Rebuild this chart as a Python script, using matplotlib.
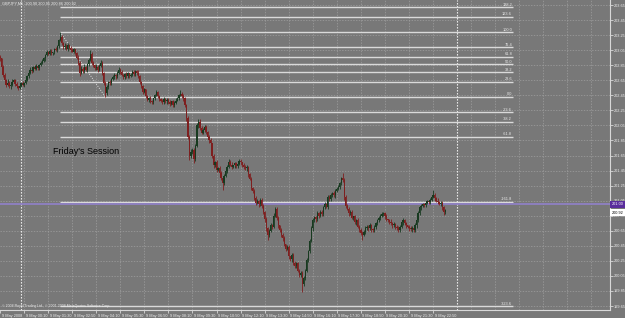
import matplotlib
matplotlib.use("Agg")
import matplotlib.pyplot as plt
import matplotlib.transforms as mtransforms
import numpy as np

plt.rcParams['font.family'] = ['Liberation Sans', 'DejaVu Sans']

# ---------------- data (prices in pips above 200.00) ----------------
first_open = 298
close_pips = [
    296, 294, 283, 272, 265, 259, 262, 257, 259, 263, 265, 260, 257, 255, 258, 261, 259, 262, 265, 270,
    275, 279, 277, 282, 280, 284, 281, 285, 288, 291, 294, 299, 302, 300, 304, 301, 302, 306, 305, 310,
    318, 322, 314, 309, 311, 307, 312, 308, 305, 303, 306, 301, 295, 288, 275, 280, 277, 283, 279, 286,
    292, 300, 288, 285, 281, 283, 279, 284, 288, 275, 262, 248, 256, 263, 261, 266, 269, 272, 270, 275,
    279, 276, 272, 269, 273, 270, 274, 271, 272, 276, 273, 277, 275, 270, 263, 257, 250, 253, 244, 239,
    241, 237, 236, 241, 245, 249, 244, 240, 238, 236, 240, 237, 239, 236, 234, 237, 232, 235, 238, 241,
    245, 247, 244, 241, 232, 215, 190, 165, 170, 172, 160, 178, 205, 210, 202, 195, 199, 203, 196, 190,
    185, 181, 165, 152, 156, 146, 149, 142, 135, 128, 138, 145, 150, 157, 153, 150, 152, 155, 151, 154,
    158, 156, 152, 150, 148, 150, 140, 134, 122, 118, 108, 102, 105, 100, 106, 98, 90, 80, 68, 60,
    65, 72, 70, 85, 94, 82, 72, 66, 60, 55, 47, 41, 44, 31, 27, 33, 22, 18, 22, 12,
    6, 9, -6, 2, 12, 26, 38, 52, 68, 79, 83, 80, 88, 85, 90, 87, 96, 100, 97, 110,
    107, 112, 115, 112, 118, 121, 123, 128, 135, 132, 110, 98, 94, 88, 90, 82, 84, 76, 79, 70,
    66, 62, 60, 64, 68, 70, 68, 72, 67, 66, 70, 75, 79, 82, 85, 87, 88, 84, 80, 79,
    77, 75, 72, 74, 70, 68, 66, 70, 76, 79, 75, 72, 70, 68, 67, 69, 66, 72, 79, 88,
    96, 98, 100, 99, 102, 104, 103, 106, 110, 113, 108, 105, 103, 101, 102, 96, 90, 92,
]
up_wick = [
    3, 2, 1, 2, 3, 1, 4, 2, 2, 3, 1, 2, 3, 1, 2, 2, 3, 1, 2, 2,
    2, 3, 1, 2, 3, 2, 1, 2, 3, 2, 2, 1, 3, 2, 2, 3, 1, 2, 3, 2,
    2, 7, 3, 2, 4, 2, 3, 1, 2, 3, 2, 1, 2, 3, 2, 4, 2, 3, 1, 2,
    2, 5, 3, 2, 1, 3, 2, 2, 4, 3, 1, 2, 3, 1, 2, 2, 3, 2, 1, 2,
    3, 2, 2, 1, 2, 3, 2, 1, 2, 3, 2, 1, 2, 3, 2, 1, 2, 2, 1, 2,
    2, 3, 2, 1, 2, 3, 2, 2, 1, 2, 3, 1, 2, 2, 3, 1, 2, 2, 3, 2,
    2, 5, 2, 3, 2, 2, 3, 2, 4, 3, 3, 2, 3, 4, 3, 2, 3, 2, 2, 1,
    2, 3, 1, 2, 2, 3, 1, 2, 2, 3, 2, 3, 2, 4, 2, 3, 1, 2, 2, 3,
    2, 2, 1, 3, 2, 2, 1, 2, 2, 1, 2, 3, 2, 1, 3, 2, 2, 1, 3, 2,
    2, 3, 2, 4, 3, 2, 2, 1, 2, 2, 3, 1, 2, 2, 1, 2, 2, 3, 1, 2,
    2, 3, 2, 3, 2, 3, 2, 2, 3, 3, 2, 2, 3, 2, 2, 3, 2, 3, 2, 3,
    2, 3, 2, 3, 2, 2, 3, 2, 2, 7, 3, 2, 3, 2, 2, 3, 1, 2, 2, 3,
    2, 2, 3, 2, 3, 2, 2, 3, 2, 2, 3, 2, 2, 3, 2, 3, 2, 2, 3, 1,
    2, 3, 2, 2, 1, 2, 3, 2, 2, 3, 2, 2, 1, 2, 3, 2, 2, 3, 2, 3,
    2, 3, 2, 2, 3, 2, 2, 3, 2, 6, 2, 2, 3, 2, 2, 3, 2, 2,
]
down_wick = [
    2, 3, 2, 3, 2, 3, 1, 2, 3, 2, 2, 3, 2, 3, 1, 2, 2, 3, 2, 1,
    2, 2, 3, 1, 2, 2, 3, 2, 1, 2, 2, 3, 2, 1, 2, 2, 3, 2, 1, 2,
    2, 1, 2, 3, 2, 2, 3, 2, 2, 1, 2, 3, 2, 3, 4, 2, 3, 2, 2, 3,
    2, 1, 3, 2, 3, 2, 3, 2, 2, 3, 3, 5, 2, 3, 2, 2, 1, 2, 3, 2,
    2, 3, 2, 2, 3, 2, 2, 3, 2, 1, 2, 2, 3, 2, 3, 2, 3, 2, 3, 2,
    3, 2, 3, 2, 2, 1, 2, 3, 2, 3, 2, 2, 3, 2, 3, 2, 3, 2, 2, 1,
    2, 1, 2, 3, 3, 4, 3, 6, 3, 3, 5, 2, 2, 3, 3, 2, 2, 3, 3, 2,
    3, 2, 3, 3, 2, 3, 2, 3, 3, 9, 2, 2, 3, 2, 2, 3, 2, 3, 2, 2,
    2, 3, 2, 3, 2, 3, 3, 2, 3, 3, 2, 3, 2, 3, 2, 3, 3, 4, 3, 7,
    3, 2, 3, 2, 2, 3, 3, 2, 3, 3, 2, 3, 2, 3, 2, 3, 2, 3, 3, 2,
    3, 2, 10, 3, 2, 2, 3, 2, 2, 3, 2, 3, 2, 3, 2, 2, 3, 2, 2, 3,
    2, 3, 2, 2, 3, 2, 2, 3, 2, 2, 4, 3, 2, 3, 2, 2, 3, 2, 3, 2,
    3, 2, 7, 2, 3, 2, 3, 2, 3, 2, 2, 3, 2, 2, 3, 2, 2, 3, 2, 2,
    3, 2, 3, 2, 3, 2, 3, 2, 2, 3, 2, 3, 2, 3, 2, 3, 2, 2, 3, 2,
    2, 3, 2, 2, 3, 2, 3, 2, 2, 2, 3, 2, 3, 2, 3, 3, 4, 3,
]

time_tick_bars = [1, 17, 33, 49, 65, 81, 97, 113, 129, 145, 161, 177, 193, 209, 225, 241, 257, 273, 289]
time_labels = ["9 May 2008", "9 May 00:10", "9 May 01:30", "9 May 02:50", "9 May 04:10",
               "9 May 05:30", "9 May 06:50", "9 May 08:10", "9 May 09:30", "9 May 10:50",
               "9 May 12:10", "9 May 13:30", "9 May 14:50", "9 May 16:10", "9 May 17:30",
               "9 May 18:50", "9 May 20:10", "9 May 21:30", "9 May 22:50"]
grid_bars = [17, 33, 49, 65, 81, 97, 113, 129, 145, 161, 177, 193, 209, 225, 241, 257, 273, 289,
             314, 330, 346, 362, 378, 394]
separator_bars = [15, 304.9]

price_ticks = [199.65, 199.85, 200.05, 200.25, 200.45, 200.65, 200.85, 201.05, 201.25, 201.45,
               201.65, 201.85, 202.05, 202.25, 202.45, 202.65, 202.85, 203.05, 203.25, 203.45, 203.65]

fib_high_bar, fib_low_bar = 41, 71
fib_high, fib_low = 203.29, 202.43
fib_levels = [138.2, 123.6, 100.0, 76.4, 61.8, 50.0, 38.2, 23.6, 0.0, -23.6, -38.2, -61.8, -161.8, -323.6]
fib_end_bar = 342

hline_price = 201.00
last_price = 200.92
title_text = "GBPJPY,M5  200.90 200.95 200.86 200.92"
note_text = "Friday's Session"
copyright_text = "© 2008 Royal Trading Ltd., © 2001-2008 MetaQuotes Software Corp."

# ---------------- styling ----------------
BG = '#787878'
GRID = '#a0a0a0'
BULL = '#183a20'
BEAR = '#7e1f1f'
FIBC = '#dadada'
TXT = '#ececec'

closes = np.array(close_pips) / 100.0 + 200.0
opens = np.array([first_open] + close_pips[:-1]) / 100.0 + 200.0
highs = np.maximum(opens, closes) + np.array(up_wick) / 100.0
lows = np.minimum(opens, closes) - np.array(down_wick) / 100.0
xb = np.arange(len(closes))

fig = plt.figure(figsize=(6.25, 3.18), dpi=100, facecolor=BG)
ax = fig.add_axes([0, 8 / 318, 610 / 625, 310 / 318], facecolor=BG)

px_per_bar = 1.504
xmin = 1.6 / px_per_bar
ax.set_xlim(xmin, xmin + 610 / px_per_bar)
ax.set_ylim(203.65 - 305 / 75.25, 203.65 + 5 / 75.25)

# grid
for p in price_ticks:
    ax.axhline(p, color=GRID, lw=0.5, ls=(0, (2, 2)), zorder=1)
for g in grid_bars:
    ax.axvline(g, color=GRID, lw=0.5, ls=(0, (2, 2)), zorder=1)
for s in separator_bars:
    ax.axvline(s, color='white', lw=0.8, ls=(0, (1.2, 1.5)), zorder=2)

# fibonacci
rng = fib_high - fib_low
for lev in fib_levels:
    p = fib_low + lev / 100.0 * rng
    ax.hlines(p, fib_high_bar, fib_end_bar, color=FIBC, lw=1.0, zorder=2)
    ax.text(fib_end_bar - 0.5, p + 0.006, f"{lev:.1f}", ha='right', va='bottom',
            fontsize=2.8, color=TXT, zorder=5)
ax.plot([fib_high_bar, fib_low_bar], [fib_high, fib_low], color='#e0e0e0', lw=0.7,
        ls=(0, (1, 1.5)), zorder=2)

# horizontal line
ax.axhline(hline_price, color='#8f80c4', lw=1.3, zorder=2)

# candles
up = closes >= opens
cols = np.where(up, BULL, BEAR)
ax.vlines(xb, lows, highs, colors=cols, lw=0.6, zorder=3)
body_h = np.maximum(np.abs(closes - opens), 0.004)
ax.bar(xb, body_h, bottom=np.minimum(opens, closes), width=0.8, color=cols,
       linewidth=0, zorder=4)

# texts
ax.text(53 / 610, 1 - 151 / 310, note_text, transform=ax.transAxes, fontsize=6.5,
        color='black', ha='left', va='center', family='Liberation Sans')
ax.text(0.004, 0.995, title_text, transform=ax.transAxes, fontsize=2.8, color=TXT,
        ha='left', va='top')
ax.text(0.003, 4 / 310, copyright_text, transform=ax.transAxes, fontsize=2.5, color=TXT,
        ha='left', va='center')

# axes / spines
for sp in ['left', 'top']:
    ax.spines[sp].set_visible(False)
for sp in ['right', 'bottom']:
    ax.spines[sp].set_color('#d8d8d8')
    ax.spines[sp].set_linewidth(0.8)

ax.yaxis.tick_right()
ax.set_yticks(price_ticks)
ax.set_yticklabels([f"{p:.2f}" for p in price_ticks])
ax.tick_params(axis='y', length=2, width=0.5, colors=TXT, labelsize=2.8, pad=1)

ax.set_xticks(time_tick_bars)
ax.set_xticklabels(time_labels, ha='left')
ax.tick_params(axis='x', length=2, width=0.5, colors=TXT, labelsize=2.8, pad=0.8)
off = mtransforms.ScaledTranslation(1.5 / 100, 0, fig.dpi_scale_trans)
for lbl in ax.get_xticklabels():
    lbl.set_transform(lbl.get_transform() + off)

# price boxes on the right axis
btr = mtransforms.blended_transform_factory(ax.transAxes, ax.transData)
ax.text(1.003, hline_price, f"{hline_price:.2f}", transform=btr, fontsize=2.8, color='white',
        ha='left', va='center', bbox=dict(boxstyle='square,pad=0.35', fc='#5a2d9c', ec='none'))
ax.text(1.003, last_price - 0.03, f"{last_price:.2f}", transform=btr, fontsize=2.8, color='black',
        ha='left', va='center', bbox=dict(boxstyle='square,pad=0.35', fc='white', ec='none'))

fig.savefig("out.png", dpi=100, facecolor=BG)
